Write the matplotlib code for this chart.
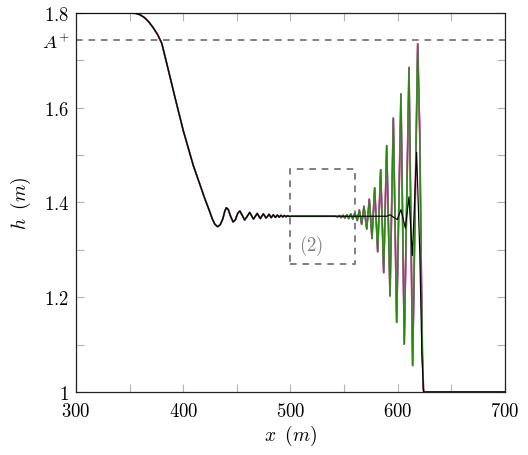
# Undular bore profiles: h(x) for several runs, reference level A+ and zoom box (2)
import numpy as np
import matplotlib.pyplot as plt
from matplotlib.ticker import FixedLocator

plt.rcParams['mathtext.fontset'] = 'cm'
plt.rcParams['font.family'] = 'DejaVu Serif'

# ---- data ----
# rarefaction wave + decaying ripples (shared by all runs)
x_left = [300, 345, 352, 356, 360, 364, 368, 372, 376, 380, 385, 392.3, 400, 409.4,
          420.3, 424, 427, 429.5, 432, 434.5, 437, 438.8, 440.2, 442, 444.3, 446.5,
          448.5, 450.8, 452.8, 455, 457.3, 459.7, 462, 465.5, 469, 471.8, 474.7,
          477.3, 480, 482, 484, 486, 487.8, 489.5, 491.2, 492.8, 494.3, 495.8,
          497.4, 499, 501]
h_left = [1.8, 1.8, 1.8, 1.799, 1.796, 1.790, 1.781, 1.769, 1.755, 1.736, 1.690,
          1.622, 1.552, 1.478, 1.407, 1.385, 1.366, 1.354, 1.349, 1.353, 1.366,
          1.382, 1.389, 1.385, 1.370, 1.359, 1.363, 1.377, 1.382, 1.373, 1.363,
          1.371, 1.379, 1.365, 1.377, 1.366, 1.376, 1.367, 1.375, 1.368, 1.374,
          1.3685, 1.3735, 1.369, 1.373, 1.3695, 1.3725, 1.370, 1.372, 1.3705, 1.371]

# fine runs: dispersive shock train
x_bore = [540, 542, 544, 545.6, 547.3, 549, 550.7, 552.5, 554.3, 556.2, 558.1, 560,
          562.3, 564.2, 566.4, 568.5, 571.1, 573.5, 576, 578.5, 581.3, 584.1, 586.9,
          589.7, 592.8, 595.9, 599.0, 603.0, 606.1, 610.5, 613.9, 618.6, 620.5, 622,
          623, 624, 625, 627, 700]
h_bore = [1.371, 1.371, 1.3695, 1.3725, 1.368, 1.373, 1.367, 1.374, 1.366, 1.376,
          1.365, 1.378, 1.362, 1.384, 1.354, 1.392, 1.344, 1.407, 1.324, 1.431, 1.296,
          1.469, 1.252, 1.520, 1.203, 1.578, 1.147, 1.629, 1.101, 1.685, 1.056, 1.735,
          1.55, 1.25, 1.08, 1.005, 0.998, 1.0, 1.0]

# coarse run (black)
x_coarse = [540, 590, 592.8, 596, 599.6, 603, 607.1, 610.5, 613.6, 617.6, 620.5,
            622.5, 624, 700]
h_coarse = [1.371, 1.371, 1.374, 1.369, 1.364, 1.385, 1.346, 1.412, 1.288, 1.506,
            1.30, 1.08, 1.0, 1.0]

A_plus = 1.743
box_x = [500, 560]
box_h = [1.27, 1.47]

fine_runs = ['#dc0050', '#a070c8', '#7a7a7a', '#1f8c00']
fine_lw = [1.25, 1.1, 0.95, 0.7]

# ---- plot ----
fig = plt.figure(figsize=(5.28, 4.56), dpi=100)
ax = fig.add_axes([0.1439, 0.1382, 0.8125, 0.8311])

x_fine = x_left + x_bore[1:]
h_fine = h_left + h_bore[1:]
for c, lw in zip(fine_runs, fine_lw):
    ax.plot(x_fine, h_fine, color=c, lw=lw, zorder=2)
ax.plot(x_left + x_coarse[1:], h_left + h_coarse[1:], color='black', lw=0.85, zorder=3)

gray = '#808080'
ax.axhline(A_plus, color=gray, lw=1.4, ls=(0, (3.4, 3.0)), zorder=1)
ax.plot([box_x[0], box_x[1], box_x[1], box_x[0], box_x[0]],
        [box_h[0], box_h[0], box_h[1], box_h[1], box_h[0]],
        color=gray, lw=1.4, ls=(0, (3.4, 3.0)), zorder=1)
ax.text(519, 1.31, r'$(2)$', color=gray, fontsize=13.5, ha='center', va='center')

ax.set_xlim(300, 700)
ax.set_ylim(1, 1.8)
ax.xaxis.set_major_locator(FixedLocator([300, 400, 500, 600, 700]))
ax.xaxis.set_minor_locator(FixedLocator([350, 450, 550, 650]))
ax.set_xticklabels([f'${v}$' for v in [300, 400, 500, 600, 700]])
ax.yaxis.set_major_locator(FixedLocator([1, 1.2, 1.4, 1.6, 1.8, A_plus]))
ax.yaxis.set_minor_locator(FixedLocator([1.1, 1.3, 1.5, 1.7]))
ax.set_yticklabels(['$1$', '$1.2$', '$1.4$', '$1.6$', '$1.8$', '$A^{+}$'])
ax.tick_params(which='both', direction='in', top=True, right=True,
               color='#b4b4b4', width=0.8, length=5.5, labelsize=13.5)
ax.tick_params(axis='x', pad=7)
ax.tick_params(axis='y', pad=5)
ax.yaxis.get_major_ticks()[-1].tick1line.set_visible(False)
ax.yaxis.get_major_ticks()[-1].tick2line.set_visible(False)
for s in ax.spines.values():
    s.set_color('#222222')
    s.set_linewidth(0.9)

ax.set_xlabel(r'$x\;\;(m)$', fontsize=14, labelpad=2)
ax.set_ylabel(r'$h\;\;(m)$', fontsize=14, labelpad=6)

fig.savefig('out.png', dpi=100)
